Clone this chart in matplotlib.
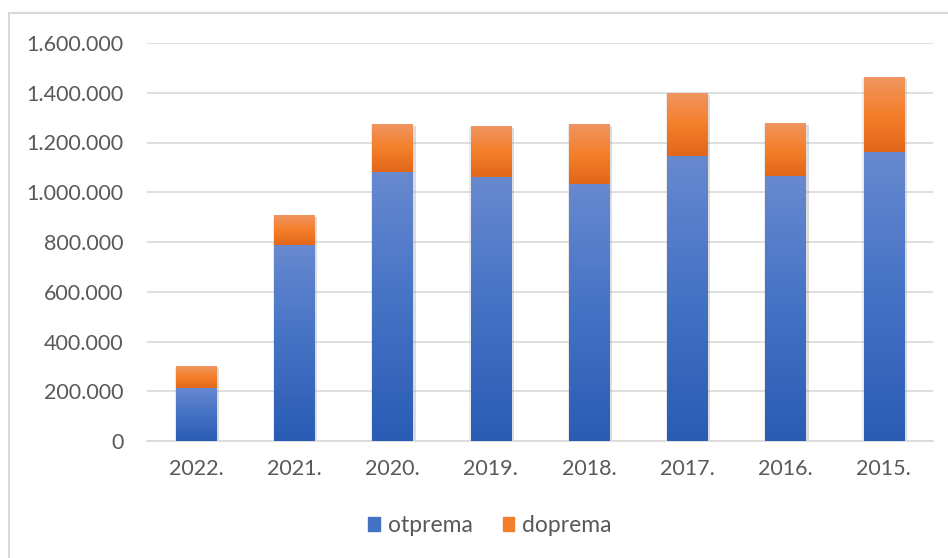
import matplotlib.pyplot as plt
import numpy as np
from matplotlib.colors import LinearSegmentedColormap
from matplotlib.patches import Patch, Rectangle
from matplotlib import patheffects as pe
from matplotlib.ticker import FuncFormatter

plt.rcParams['font.family'] = ['Lato', 'DejaVu Sans']

years = ['2022.', '2021.', '2020.', '2019.', '2018.', '2017.', '2016.', '2015.']
otprema = [214000, 788000, 1083000, 1061000, 1034000, 1147000, 1065000, 1163000]
doprema = [88000, 120000, 191000, 205000, 240000, 252000, 215000, 301000]

blue_stops = ['#6889d0', '#4472c4', '#2b5bb4']
orange_stops = ['#f09560', '#f47f2a', '#e2661a']
text_col = '#595959'
grid_col = '#d9d9d9'

fig = plt.figure(figsize=(9.48, 5.58), dpi=100)
ax = fig.add_axes([147 / 948, 1 - 441 / 558, 786 / 948, 398 / 558])

x = np.arange(len(years))
width = 0.41
shadow = [pe.SimplePatchShadow(offset=(2, -1.5), shadow_rgbFace='#909090', alpha=0.3),
          pe.SimplePatchShadow(offset=(-1, -1), shadow_rgbFace='#b0b0b0', alpha=0.25),
          pe.Normal()]

bars_o = ax.bar(x, otprema, width, color=blue_stops[1], zorder=2, path_effects=shadow)
bars_d = ax.bar(x, doprema, width, bottom=otprema, color=orange_stops[1], zorder=2, path_effects=shadow)


def gradient_fill(bars, stops):
    cmap = LinearSegmentedColormap.from_list('g', stops[::-1])
    grad = np.linspace(1, 0, 256).reshape(-1, 1)
    for b in bars:
        x0, y0 = b.get_x(), b.get_y()
        im = ax.imshow(grad, cmap=cmap, vmin=0, vmax=1, aspect='auto', origin='upper',
                       extent=(x0, x0 + b.get_width(), y0, y0 + b.get_height()), zorder=3)
        im.set_clip_path(b)


gradient_fill(bars_o, blue_stops)
gradient_fill(bars_d, orange_stops)

ax.set_xlim(-0.5, len(years) - 0.5)
ax.set_ylim(0, 1600000)
ax.set_yticks(np.arange(0, 1600001, 200000))
ax.yaxis.set_major_formatter(FuncFormatter(lambda v, p: f'{v:,.0f}'.replace(',', '.')))
ax.set_xticks(x)
ax.set_xticklabels(years)

ax.set_axisbelow(True)
ax.grid(axis='y', color=grid_col, linewidth=1.2)
for s in ['top', 'right', 'left']:
    ax.spines[s].set_visible(False)
ax.spines['bottom'].set_color(grid_col)
ax.spines['bottom'].set_linewidth(1.2)
ax.tick_params(axis='both', length=0, labelsize=15.5, colors=text_col)
ax.tick_params(axis='y', pad=17)
ax.tick_params(axis='x', pad=13)

handles = [Patch(color=blue_stops[1], label='otprema'), Patch(color=orange_stops[1], label='doprema')]
fig.legend(handles=handles, loc='center', bbox_to_anchor=(490 / 948, 1 - 526 / 558), ncol=2,
           frameon=False, fontsize=16.5, labelcolor=text_col, handlelength=0.5, handleheight=0.55,
           handletextpad=0.35, columnspacing=1.3)

# chart border
fig.add_artist(Rectangle((9 / 948, -0.1), 1.2, 1 - 13 / 558 + 0.1, transform=fig.transFigure,
                         fill=False, edgecolor=grid_col, linewidth=1.5))

fig.savefig('out.png', dpi=100)
